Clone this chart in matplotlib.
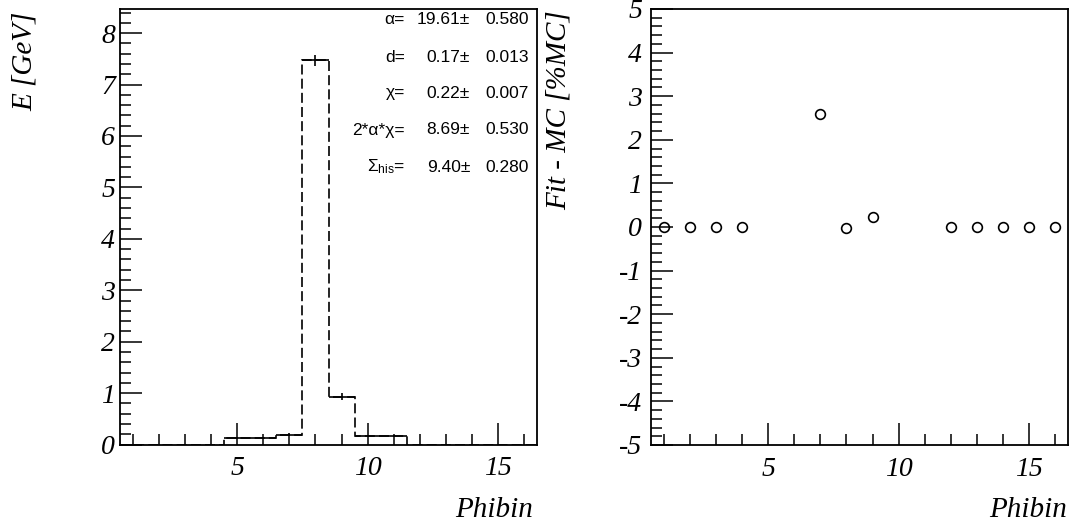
import numpy as np
import matplotlib
matplotlib.use("Agg")
import matplotlib.pyplot as plt
from matplotlib.ticker import MultipleLocator, FixedLocator

plt.rcParams["axes.unicode_minus"] = False
plt.rcParams["mathtext.fontset"] = "custom"
plt.rcParams["mathtext.rm"] = "Liberation Sans"
plt.rcParams["mathtext.it"] = "Liberation Sans:italic"

# Energy per phi bin (left panel)
bin_edges = np.arange(0.5, 17.0, 1.0)
bin_centers = np.arange(1, 17)
energy = [0, 0, 0, 0, 0.12, 0.12, 0.19, 7.47, 0.93, 0.17, 0.17, 0, 0, 0, 0, 0]
energy_err = [0, 0, 0, 0, 0.02, 0.02, 0.03, 0.10, 0.065, 0.02, 0.02, 0, 0, 0, 0, 0]

# Fit parameters
par_labels = ["α=", "d=", "χ=", "2*α*χ=", r"$\Sigma_{\mathrm{his}}$="]
par_values = ["19.61", "0.17", "0.22", "8.69", "9.40"]
par_errors = ["0.580", "0.013", "0.007", "0.530", "0.280"]

# Fit - MC residuals (right panel)
resid_bins = [1, 2, 3, 4, 7, 8, 9, 12, 13, 14, 15, 16]
resid_vals = [0, 0, 0, 0, 2.6, -0.03, 0.22, 0, 0, 0, 0, 0]

W, H = 1072, 525
fig = plt.figure(figsize=(W / 100, H / 100), dpi=100)

serif_it = dict(family="Liberation Serif", style="italic", size=21)


def px_axes(x0, y0, x1, y1):
    return fig.add_axes([x0 / W, 1 - y1 / H, (x1 - x0) / W, (y1 - y0) / H])


def style_axes(ax, ypad):
    for s in ax.spines.values():
        s.set_linewidth(1.3)
        s.set_color("black")
    ax.tick_params(which="major", direction="in", length=15.5, width=1.1,
                   top=False, right=False)
    ax.tick_params(which="minor", direction="in", length=7.8, width=1.1,
                   top=False, right=False)
    ax.tick_params(axis="x", which="major", pad=8.5)
    ax.tick_params(axis="y", which="major", pad=ypad)
    ax.xaxis.set_major_locator(FixedLocator([5, 10, 15]))
    ax.xaxis.set_minor_locator(MultipleLocator(1))
    ax.yaxis.set_major_locator(MultipleLocator(1))
    ax.yaxis.set_minor_locator(MultipleLocator(0.2))
    for lab in ax.get_xticklabels() + ax.get_yticklabels():
        lab.set_fontfamily("Liberation Serif")
        lab.set_fontstyle("italic")
        lab.set_fontsize(20)


# ---- left panel: energy histogram ----
ax1 = px_axes(120, 9, 537, 444.5)
ax1.stairs(energy, bin_edges, color="black", linewidth=1.2,
           linestyle=(0, (6, 2.5)), baseline=0)
nz = [i for i, v in enumerate(energy) if v > 0]
ax1.errorbar([bin_centers[i] for i in nz], [energy[i] for i in nz],
             xerr=0.5, yerr=[energy_err[i] for i in nz], fmt="none",
             ecolor="black", elinewidth=1.2, capsize=0)
ax1.set_xlim(0.5, 16.5)
ax1.set_ylim(0, 8.47)
style_axes(ax1, ypad=3.5)

row_y = [20, 57, 93, 130, 167]
for lab, val, err, y in zip(par_labels, par_values, par_errors, row_y):
    yf = (444.5 - y) / 435.5
    kw = dict(transform=ax1.transAxes, va="center", ha="right",
              family="Liberation Sans", size=12.5)
    ax1.text((405 - 120) / 417, yf, lab, **kw)
    ax1.text((470 - 120) / 417, yf, val + "±", **kw)
    ax1.text((529 - 120) / 417, yf, err, **kw)

fig.text(25 / W, 1 - 12 / H, "E [GeV]", rotation=90, ha="center", va="top",
         **serif_it)
fig.text(533 / W, 8 / H, "Phibin", ha="right", va="baseline", **serif_it)

# ---- right panel: residuals ----
ax2 = px_axes(651, 9, 1068, 445)
ax2.plot(resid_bins, resid_vals, "o", markerfacecolor="none",
         markeredgecolor="black", markersize=7, markeredgewidth=1.2)
ax2.set_xlim(0.5, 16.5)
ax2.set_ylim(-5, 5)
style_axes(ax2, ypad=6.5)

fig.text(559 / W, 1 - 10 / H, "Fit - MC [%MC]", rotation=90, ha="center",
         va="top", **serif_it)
fig.text(1067 / W, 8 / H, "Phibin", ha="right", va="baseline", **serif_it)

fig.savefig("out.png", dpi=100, facecolor="white")
